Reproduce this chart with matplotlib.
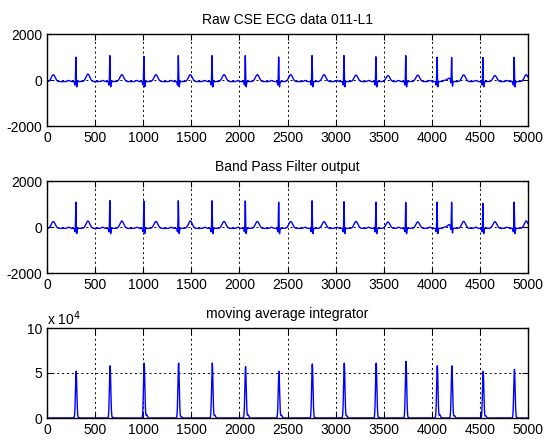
import numpy as np
import matplotlib
matplotlib.use("Agg")
import matplotlib.pyplot as plt

plt.rcParams['font.family'] = ['Liberation Sans', 'DejaVu Sans']
plt.rcParams['font.size'] = 10
plt.rcParams['axes.unicode_minus'] = False

# beat positions (samples)
r_pos = [-60, 300, 653, 1007, 1365, 1715, 2061, 2408, 2755, 3087, 3419, 3729, 4054, 4206, 4531, 4856]
# R wave height, raw signal
raw_r = [1100, 1070, 1140, 1110, 1140, 1140, 1140, 1080, 1140, 1140, 1090, 1140, 1070, 1000, 1060, 1070]
# T wave height, raw signal
raw_t = [300, 330, 300, 300, 300, 300, 300, 300, 300, 280, 260, 280, 150, 290, 260, 300]
# R wave height, band pass output
bpf_r = [1150, 1150, 1220, 1200, 1210, 1210, 1200, 1150, 1210, 1170, 1150, 1140, 1150, 1080, 1100, 1150]
bpf_t = [300, 320, 320, 300, 320, 300, 300, 300, 290, 300, 280, 280, 160, 300, 290, 320]
# moving window integrator peak heights
mwi_peak = [0, 5.2e4, 5.8e4, 6.1e4, 6.1e4, 6.1e4, 5.7e4, 5.2e4, 6.0e4, 6.1e4, 6.1e4, 6.3e4, 5.8e4, 5.8e4, 5.2e4, 5.4e4]
mwi_bump = [0, 500, 800, 3500, 1500, 3000, 3500, 3000, 500, 2500, 800, 500, 3500, 2500, 2500, 500]

# wave template: offset from R, width
wave_off = [-75, -9, 0, 9, 125]
wave_w = [12, 3, 2.5, 3.5, 20]

n = np.arange(5000)


def ecg(r_amp, t_amp, base):
    y = np.full(n.shape, float(base))
    for p, r, t in zip(r_pos, r_amp, t_amp):
        amps = [50, -150, r, -230, t]
        for o, a, w in zip(wave_off, amps, wave_w):
            y += a * np.exp(-0.5 * ((n - p - o) / w) ** 2)
    return y


raw = ecg(raw_r, raw_t, -70)
bpf = ecg(bpf_r, bpf_t, -60)

mwi = np.zeros(n.shape)
for p, h, b in zip(r_pos, mwi_peak, mwi_bump):
    mwi += h * np.exp(-0.5 * ((n - p - 3) / 7) ** 2)
    mwi += b * np.exp(-0.5 * ((n - p - 30) / 7) ** 2)

fig = plt.figure(figsize=(5.45, 4.4), dpi=100)
left, width = 47 / 545, 481 / 545
ax1 = fig.add_axes([left, 1 - 126 / 440, width, 92 / 440])
ax2 = fig.add_axes([left, 1 - 273 / 440, width, 92 / 440])
ax3 = fig.add_axes([left, 1 - 418 / 440, width, 90 / 440])

xt = np.arange(0, 5001, 500)
for ax, y, title in [(ax1, raw, 'Raw CSE ECG data 011-L1'),
                     (ax2, bpf, 'Band Pass Filter output')]:
    ax.plot(n, y, color='blue', lw=1)
    ax.set_ylim(-2000, 2000)
    ax.set_yticks([-2000, 0, 2000])
    ax.set_title(title, fontsize=10, pad=7)

ax3.plot(n, mwi, color='blue', lw=1)
ax3.set_ylim(0, 1e5)
ax3.set_yticks([0, 5e4, 1e5])
ax3.set_yticklabels(['0', '5', '10'])
ax3.set_title('moving average integrator', fontsize=10, pad=7)
ax3.text(0.0, 1.03, r'x 10$^4$', transform=ax3.transAxes, fontsize=10)

for ax in (ax1, ax2, ax3):
    ax.set_xlim(0, 5000)
    ax.set_xticks(xt)
    ax.grid(True, color='black', linestyle=(0, (2, 3)), lw=0.7)
    ax.tick_params(direction='in', top=True, right=True, length=4, labelsize=10)
    for s in ax.spines.values():
        s.set_linewidth(1.0)

fig.savefig('out.png', dpi=100)
